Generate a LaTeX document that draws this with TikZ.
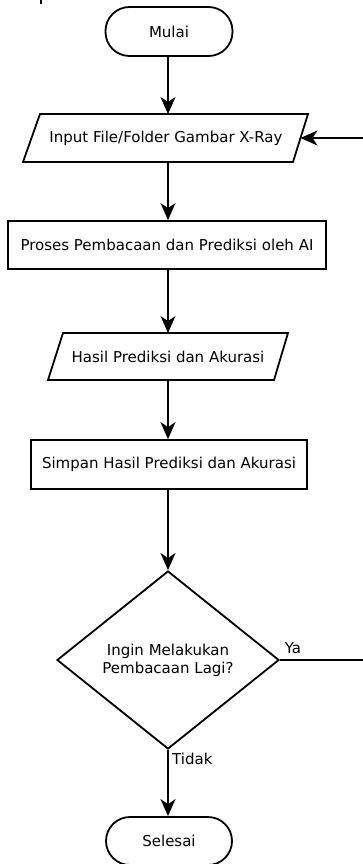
\documentclass[tikz,border=0pt]{standalone}
\usepackage{fontspec}
\setmainfont{DejaVu Sans}
\usetikzlibrary{shapes.geometric,arrows.meta}
\begin{document}
\begin{tikzpicture}[x=1pt,y=-1pt,
  base/.style={draw=black,line width=1.8pt,font=\fontsize{15}{18}\selectfont,inner sep=0pt},
  term/.style={base,rectangle,rounded corners=24pt,minimum width=127pt,minimum height=49pt},
  proc/.style={base,rectangle,minimum height=48pt},
  iotext/.style={font=\fontsize{15}{18}\selectfont,inner sep=0pt,minimum height=47pt},
  ioline/.style={line width=1.8pt,line join=miter},
  dec/.style={base,diamond,minimum width=222pt,minimum height=178pt,align=center},
  conn/.style={line width=1.8pt,-{Stealth[length=17pt,width=15pt,inset=5pt]}},
  lab/.style={font=\fontsize{15}{18}\selectfont,inner sep=0pt}]
\useasboundingbox (0,0) rectangle (363,864);
\draw[line width=1.8pt] (41,0) -- (41,4);
\node[term] (mulai) at (169,31.5) {Mulai};
% input parallelogram
\coordinate (i1) at (40,114);
\coordinate (i2) at (308,114);
\coordinate (i3) at (293,162);
\coordinate (i4) at (23,162);
\draw[ioline] (i1) -- (i2) -- (i3) -- (i4) -- cycle;
\node[iotext] (input) at (166,138) {Input File/Folder Gambar X-Ray};
\coordinate (inright) at (300.5,138);
\node[proc,minimum width=318pt] (proses) at (167,245) {Proses Pembacaan dan Prediksi oleh AI};
% hasil parallelogram
\coordinate (h1) at (63,333);
\coordinate (h2) at (288,333);
\coordinate (h3) at (274,380);
\coordinate (h4) at (48,380);
\draw[ioline] (h1) -- (h2) -- (h3) -- (h4) -- cycle;
\node[iotext] (hasil) at (168,356.5) {Hasil Prediksi dan Akurasi};
\node[proc,minimum width=276pt,minimum height=49pt] (simpan) at (169,464.5) {Simpan Hasil Prediksi dan Akurasi};
\node[dec] (tanya) at (168,660) {Ingin Melakukan\\Pembacaan Lagi?};
\node[term,minimum width=126pt,minimum height=48pt] (selesai) at (169,841) {Selesai};
\coordinate (kanan) at (366,660);
\coordinate (kananatas) at (366,138);
\coordinate (c0) at (168,56);
\coordinate (c1) at (168,114);
\coordinate (c2) at (168,162);
\coordinate (c3) at (168,333);
\coordinate (c4) at (168,380);
\draw[conn] (mulai.south -| c0) -- (c1);
\draw[conn] (c2) -- (proses.north -| c2);
\draw[conn] (proses.south -| c2) -- (c3);
\draw[conn] (c4) -- (simpan.north -| c4);
\draw[conn] (simpan.south -| c4) -- (tanya.north);
\draw[conn] (tanya.south) -- (selesai.north -| c4);
\draw[conn] (tanya.east) -- (kanan) -- (kananatas) -- (inright);
\node[lab] (ya) at (293,648) {Ya};
\node[lab,anchor=west] (tidak) at (172,759) {Tidak};
\end{tikzpicture}
\end{document}
